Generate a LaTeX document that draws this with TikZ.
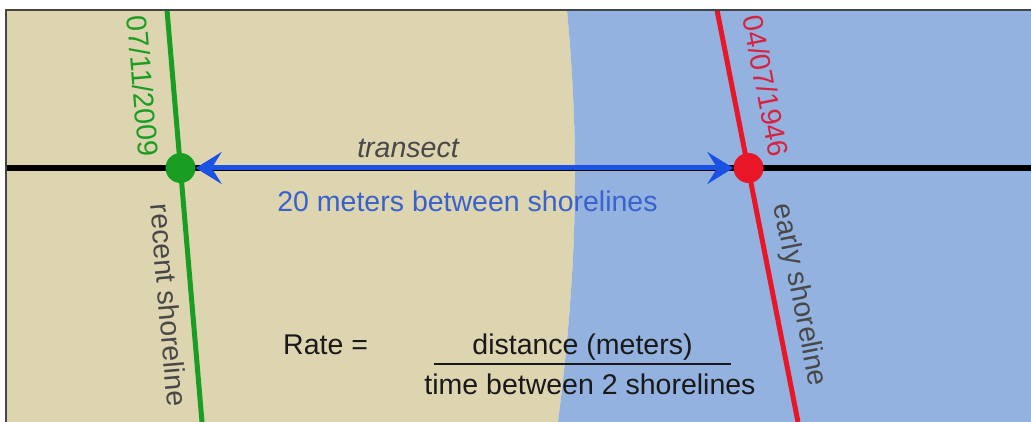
\documentclass[tikz,border=0pt]{standalone}
\usepackage{fontspec}
\setmainfont{Liberation Sans}
\usepackage{xcolor}
\usepackage{tikz}
\usetikzlibrary{positioning,arrows.meta}
\definecolor{sand}{RGB}{221,212,176}
\definecolor{sea}{RGB}{147,178,223}
\definecolor{framegray}{RGB}{70,70,70}
\definecolor{recentgreen}{RGB}{25,158,35}
\definecolor{earlyred}{RGB}{232,22,38}
\definecolor{datered}{RGB}{215,35,65}
\definecolor{transblue}{RGB}{28,82,228}
\definecolor{labelblue}{RGB}{58,98,205}
\definecolor{labelgray}{RGB}{72,72,72}
\definecolor{ink}{RGB}{25,25,25}
\newcommand{\lblfont}{\fontsize{28.5}{31}\selectfont}
\tikzset{
  shore/.style    ={line width=5pt},
  shoredot/.style ={circle, inner sep=0pt, minimum size=30pt},
  lbl/.style      ={inner sep=0pt, font=\lblfont},
  baseline/.style ={line width=5.5pt, black},
  arr/.style      ={{Stealth[length=26pt, width=32pt, inset=10pt]}-{Stealth[length=26pt, width=32pt, inset=10pt]}, line width=5pt, transblue},
}

\begin{document}
\begin{tikzpicture}[x=1pt, y=-1pt]
  \useasboundingbox (0,0) rectangle (1031,422);

  % beach and water
  \fill[sand] (6,10) -- (567,10) .. controls (578,130) and (580,250) .. (558,422) -- (6,422) -- cycle;
  \fill[sea] (567,10) .. controls (578,130) and (580,250) .. (558,422) -- (1031,422) -- (1031,10) -- cycle;

  \coordinate (west) at (6,168);
  \coordinate (east) at (1031,168);
  \coordinate (gtop) at (167,10);
  \coordinate (gbot) at (202,422);
  \coordinate (rtop) at (717,10);
  \coordinate (rbot) at (798,422);

  \draw[baseline] (west) -- (east);
  \draw[shore, recentgreen] (gtop) -- (gbot);
  \draw[shore, earlyred] (rtop) -- (rbot);

  \node[shoredot, fill=recentgreen] (recent) at (180.5,168) {};
  \node[shoredot, fill=earlyred] (early) at (748.5,168) {};
  \draw[arr] (recent) -- (early);

  % labels on the shorelines
  \node[lbl, rotate=-85.1, text=recentgreen] (d2009) at (143,86) {07/11/2009};
  \node[lbl, rotate=-85.1, text=labelgray] (recentlbl) at (169,305) {recent shoreline};
  \node[lbl, rotate=-78.9, text=datered] (d1946) at (766,86) {04/07/1946};
  \node[lbl, rotate=-78.9, text=labelgray] (earlylbl) at (799,295) {early shoreline};

  \node[lbl, anchor=base, font=\lblfont\itshape, text=labelgray] (transect) at (408,158) {transect};
  \node[lbl, anchor=base, text=labelblue] (dist) at (467.5,211.5) {20 meters between shorelines};

  % rate formula
  \node[lbl, anchor=base west, text=ink] (rate) at (283,354) {Rate =};
  \node[lbl, anchor=base, text=ink] (num) at (582.5,354) {distance (meters)};
  \node[lbl, anchor=base, text=ink] (den) at (590,394) {time between 2 shorelines};
  \coordinate (fracl) at (434,364);
  \coordinate (fracr) at (731,364);
  \draw[line width=1.5pt, ink] (fracl) -- (fracr);

  \draw[line width=2pt, framegray] (6,422) -- (6,10) -- (1031,10);
\end{tikzpicture}
\end{document}
